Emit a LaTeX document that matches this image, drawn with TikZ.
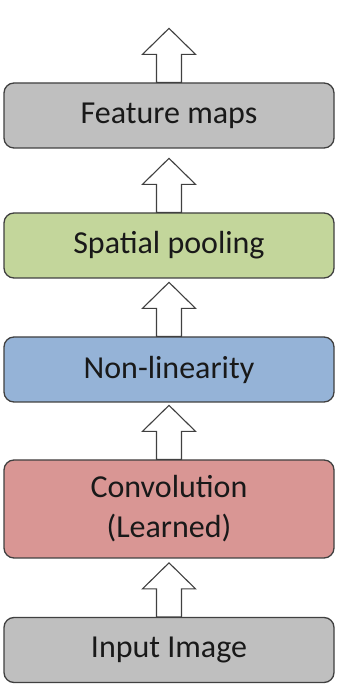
\documentclass[tikz,border=0pt]{standalone}
\usepackage{xcolor}
\usepackage{fontspec}
\setmainfont{Carlito}
\usepackage{tikz}
\usetikzlibrary{calc}

\definecolor{layergray}{HTML}{BFBFBF}
\definecolor{layerred}{HTML}{D99694}
\definecolor{layerblue}{HTML}{95B3D7}
\definecolor{layergreen}{HTML}{C3D69B}
\definecolor{edgegray}{HTML}{404040}

\tikzset{
    layer/.style={draw=edgegray, line width=1.3pt, rounded corners=10pt,
        minimum width=330pt, minimum height=65pt, align=center,
        font=\fontsize{32}{40}\selectfont, text=black!90, inner sep=0pt},
    flow/.style={draw=edgegray, line width=1.1pt, fill=white, line join=miter}
}

% hollow arrow standing on top of a layer
\newcommand{\flowarrow}[1]{%
    \draw[flow] ($(#1.north)+(-12.5pt,0)$) -- ++(0,28pt) -- ++(-14pt,0)
        -- ++(26.5pt,26pt) -- ++(26.5pt,-26pt) -- ++(-14pt,0) -- ++(0,-28pt) -- cycle;}

\begin{document}
\begin{tikzpicture}[x=1pt, y=1pt]
    \useasboundingbox (0,0) rectangle (346,690);
    % Layers
    \node[layer, fill=layergray]  (input)   at (169, 40)    {Input Image};
    \node[layer, fill=layerred, minimum height=98pt] (conv) at (169, 181) {Convolution\\(Learned)};
    \node[layer, fill=layerblue]  (nonlin)  at (169, 320.5) {Non-linearity};
    \node[layer, fill=layergreen] (pool)    at (169, 444.5) {Spatial pooling};
    \node[layer, fill=layergray]  (feature) at (169, 574.5) {Feature maps};
    % Arrows
    \flowarrow{input}
    \flowarrow{conv}
    \flowarrow{nonlin}
    \flowarrow{pool}
    \flowarrow{feature}
\end{tikzpicture}
\end{document}
